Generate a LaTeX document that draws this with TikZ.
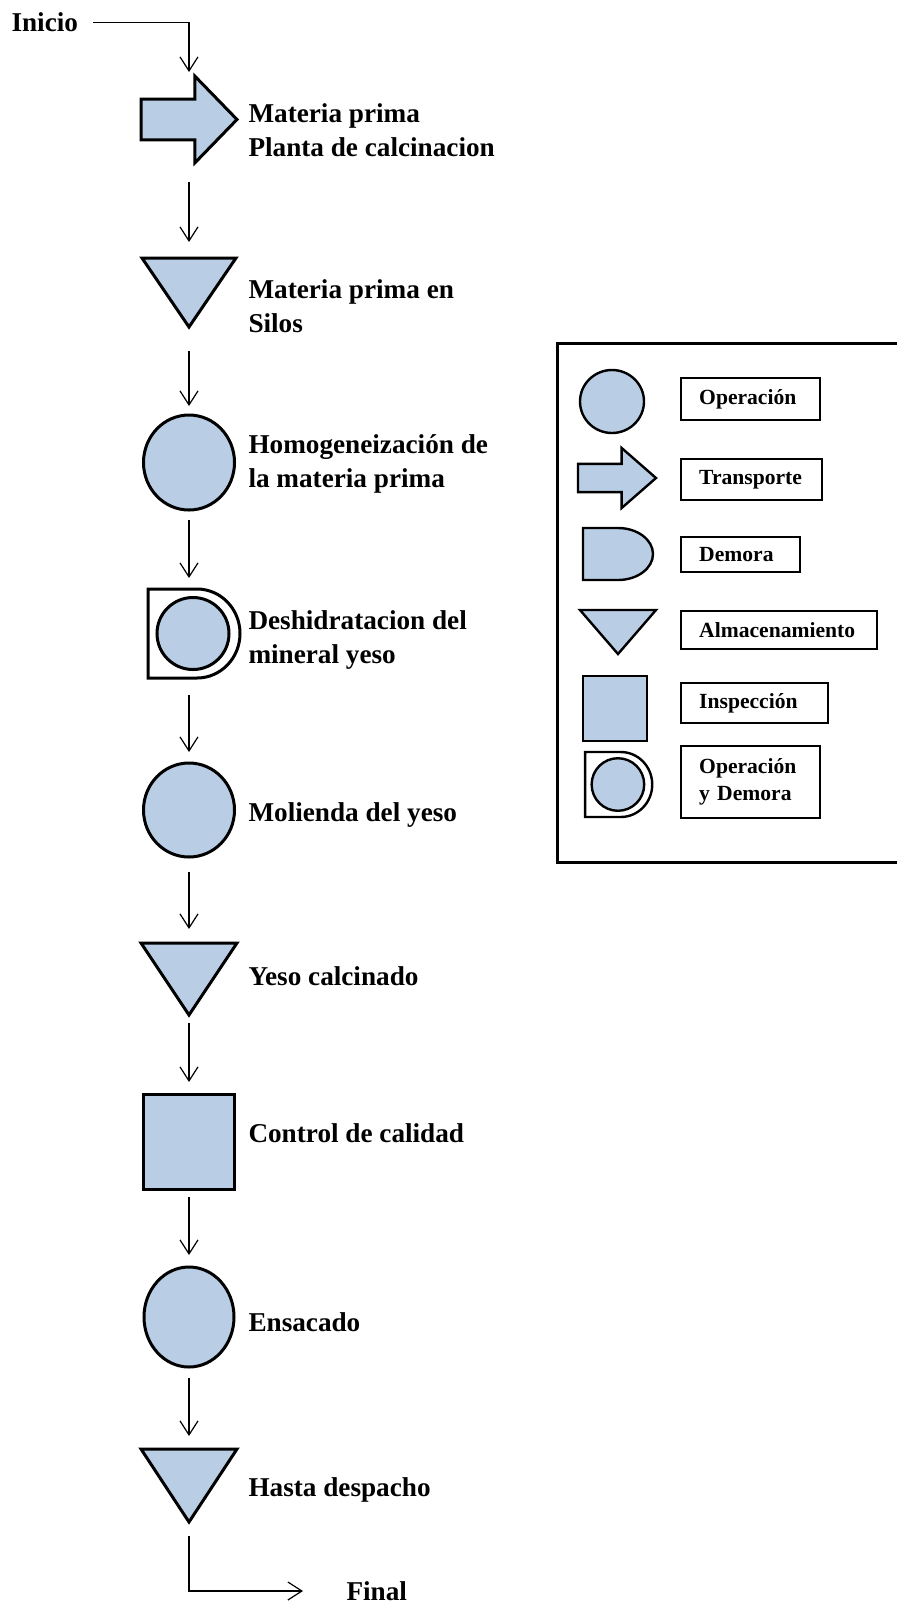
\documentclass[tikz,border=0pt]{standalone}
\usepackage{fontspec}
\setmainfont{Liberation Serif}
\usepackage{tikz}
\usetikzlibrary{arrows.meta, positioning}
\definecolor{symblue}{HTML}{B9CDE5}
\tikzset{
  lbl/.style={font=\fontsize{13.6}{17}\selectfont\bfseries, anchor=west, align=left, inner sep=0pt},
  keylbl/.style={font=\fontsize{10.8}{13.5}\selectfont\bfseries, draw, line width=1.2pt, anchor=west, align=left, inner xsep=9pt, inner ysep=0pt},
  symbox/.style={inner sep=0pt, outer sep=0pt},
  sym/.style={fill=symblue, draw=black, line join=miter},
  flow/.style={-{Straight Barb[length=7pt, width=9pt]}, line width=0.6pt},
  pics/oper/.style 2 args={code={\path[sym] (0,0) ellipse [x radius=#1, y radius=#2];}},
  pics/insp/.style 2 args={code={\path[sym] (-#1,-#2) rectangle (#1,#2);}},
  pics/almac/.style 2 args={code={\path[sym] (-#1,#2) -- (#1,#2) -- (0,-#2) -- cycle;}},
  pics/transp/.style 2 args={code={\path[sym] (-#1,0.47*#2) -- (0.12*#1,0.47*#2) -- (0.12*#1,#2) -- (#1,0)
    -- (0.12*#1,-#2) -- (0.12*#1,-0.47*#2) -- (-#1,-0.47*#2) -- cycle;}},
  pics/demora/.style 2 args={code={\path[sym] (-#1,#2) -- (0,#2) arc [start angle=90, end angle=-90, x radius=#1, y radius=#2]
    -- (-#1,-#2) -- cycle;}},
  pics/opdem/.style={code={
    \path[draw, fill=white] (-41*#1,44.5*#1) -- (8*#1,44.5*#1) arc [start angle=90, end angle=-90, x radius=43*#1, y radius=44.5*#1]
      -- (-41*#1,-44.5*#1) -- cycle;
    \path[sym] (4*#1,0) circle [radius=36*#1];}},
  pics/opdem/.default=1,
}

\begin{document}
\begin{tikzpicture}[x=0.5pt, y=0.5pt, line width=1.5pt]
  \useasboundingbox (0,0) rectangle (897,-1603);
  % Main column: one box per step, symbol drawn on it
  \foreach \n/\y/\w/\h in {s1/119.5/48/43.5, s2/292.5/47/34.5, s3/462.5/45.5/47.5, s4/633.5/41/44.5, s5/810/45.5/47,
                           s6/979/48/36, s7/1141.5/45.5/47.5, s8/1317/45/50, s9/1485.5/48/36.5}
    \node[symbox, minimum width=\w pt, minimum height=\h pt] (\n) at (189,-\y) {};
  \pic at (s1) {transp={48}{43.5}};
  \pic at (s2) {almac={47}{34.5}};
  \pic at (s3) {oper={45.5}{47.5}};
  \pic at (s4) {opdem};
  \pic at (s5) {oper={45.5}{47}};
  \pic at (s6) {almac={48}{36}};
  \pic at (s7) {insp={45.5}{47.5}};
  \pic at (s8) {oper={45}{50}};
  \pic at (s9) {almac={48}{36.5}};
  \foreach \n/\y/\t in {t1/130.5/Materia prima\\Planta de calcinacion, t2/306/Materia prima en\\Silos,
                        t3/464/Homogeneización de\\la materia prima, t4/640/Deshidratacion del\\mineral yeso,
                        t5/815/Molienda del yeso, t6/976/Yeso calcinado, t7/1133/Control de calidad,
                        t8/1322/Ensacado, t9/1490/Hasta despacho}
    \node[lbl] (\n) at (247,-\y) {\t};
  % Start and end
  \node[lbl] (ini) at (10,-22.5) {Inicio};
  \node[lbl] (fin) at (345,-1591) {Final};
  \draw[flow, shorten <=7pt, shorten >=2pt] (ini) -| (s1);
  \foreach \a/\b/\p/\q in {s1/s2/9.5/8, s2/s3/12/4.5, s3/s4/5/5.5, s4/s5/8.5/5.5, s5/s6/7.5/7, s6/s7/4/6, s7/s8/4/6, s8/s9/5.5/6.5}
    \draw[flow, shorten <=\p pt, shorten >=\q pt] (\a) -- (\b);
  \draw[flow, shorten <=7pt, shorten >=21pt] (s9) |- (fin);
  % Legend
  \draw (897,-343) -- (557,-343) -- (557,-862) -- (897,-862);
  \pic[line width=1.2pt] at (612,-401.5) {oper={32}{31.5}};
  \pic[line width=1.2pt] at (617,-478) {transp={39}{30}};
  \pic[line width=1.2pt] at (618,-554) {demora={35}{26}};
  \pic[line width=1.2pt] at (618,-632) {almac={38}{22}};
  \pic[line width=1.2pt] at (615,-708.5) {insp={32}{32.5}};
  \pic[line width=1.2pt] at (615,-784.5) {opdem=0.73};
  \foreach \n/\y/\w/\h/\t in {k1/399/51.5/21/Operación, k2/479.5/52.5/20.5/Transporte, k3/554.5/41.5/17.5/Demora,
                              k4/630/80/19/Almacenamiento, k5/703/55.5/20/Inspección, k6/782/51.5/36/{Operación\\y Demora}}
    \node[keylbl, text width=\w pt, minimum height=\h pt] (\n) at (680,-\y) {\t};
\end{tikzpicture}
\end{document}
